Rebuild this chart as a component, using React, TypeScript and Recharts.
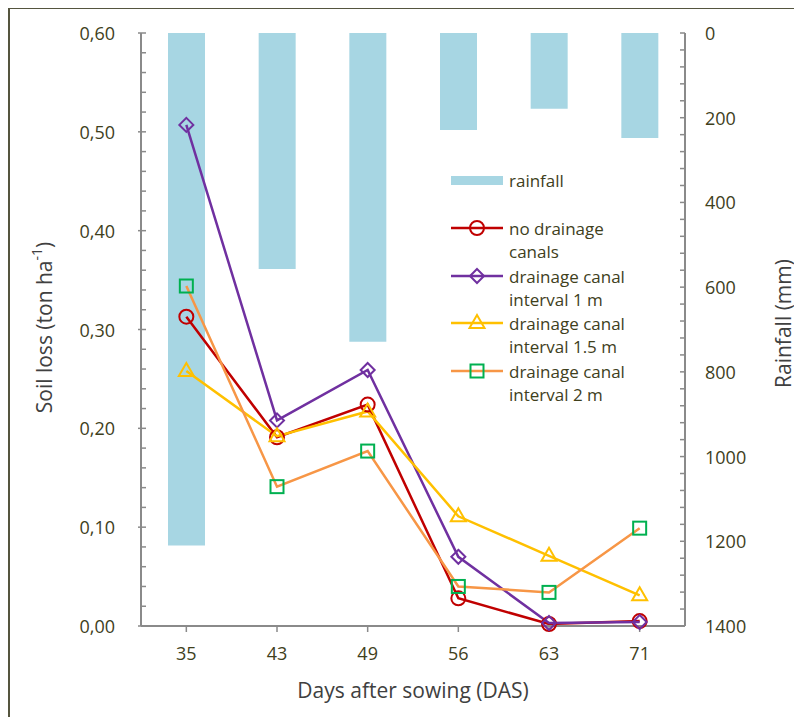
import React from 'react';
import { ComposedChart, Bar, Line, XAxis, YAxis, Legend } from 'recharts';

const days = ['35', '43', '49', '56', '63', '71'];
const rainfall = [1210, 557, 729, 229, 179, 248];
const noCanal = [0.313, 0.191, 0.224, 0.028, 0.002, 0.005];
const canal1m = [0.507, 0.208, 0.259, 0.070, 0.003, 0.004];
const canal15m = [0.258, 0.192, 0.217, 0.111, 0.071, 0.031];
const canal2m = [0.344, 0.141, 0.177, 0.040, 0.034, 0.099];

const soilTicks = [
  0, 0.02, 0.04, 0.06, 0.08, 0.1, 0.12, 0.14, 0.16, 0.18, 0.2, 0.22, 0.24, 0.26, 0.28, 0.3,
  0.32, 0.34, 0.36, 0.38, 0.4, 0.42, 0.44, 0.46, 0.48, 0.5, 0.52, 0.54, 0.56, 0.58, 0.6,
];
const rainTicks = [
  0, 40, 80, 120, 160, 200, 240, 280, 320, 360, 400, 440, 480, 520, 560, 600, 640, 680,
  720, 760, 800, 840, 880, 920, 960, 1000, 1040, 1080, 1120, 1160, 1200, 1240, 1280, 1320,
  1360, 1400,
];

const data = days.map((d, i) => ({
  day: d,
  rainfall: rainfall[i],
  noCanal: noCanal[i],
  canal1m: canal1m[i],
  canal15m: canal15m[i],
  canal2m: canal2m[i],
}));

const FONT = "'Open Sans', sans-serif";
const TEXT = '#40401c';
const TITLE = '#404040';
const AXIS = '#8a8a8a';
const BAR = '#a7d6e3';
const RED = '#c00000';
const PURPLE = '#7030a0';
const YELLOW = '#ffc000';
const ORANGE = '#f79646';
const GREEN = '#00b050';

type Shape = 'circle' | 'diamond' | 'triangle' | 'square';

function Marker({ cx, cy, shape, color }: { cx: number; cy: number; shape: Shape; color: string }) {
  const sw = 2;
  if (shape === 'circle') return <circle cx={cx} cy={cy} r={7} fill="none" stroke={color} strokeWidth={sw} />;
  if (shape === 'diamond')
    return <path d={`M${cx},${cy - 7}L${cx + 7},${cy}L${cx},${cy + 7}L${cx - 7},${cy}Z`} fill="none" stroke={color} strokeWidth={sw} />;
  if (shape === 'triangle')
    return <path d={`M${cx},${cy - 8}L${cx + 7.5},${cy + 5}L${cx - 7.5},${cy + 5}Z`} fill="none" stroke={color} strokeWidth={sw} />;
  return <rect x={cx - 6.5} y={cy - 6.5} width={13} height={13} fill="none" stroke={color} strokeWidth={sw} />;
}

const makeDot = (shape: Shape, color: string) => (p: any) => (
  <Marker key={`${shape}-${p.index}`} cx={p.cx} cy={p.cy} shape={shape} color={color} />
);

const legendRows = [
  { lines: ['no drainage', 'canals'], color: RED, marker: RED, shape: 'circle' as Shape, y: 63 },
  { lines: ['drainage canal', 'interval 1 m'], color: PURPLE, marker: PURPLE, shape: 'diamond' as Shape, y: 111 },
  { lines: ['drainage canal', 'interval 1.5 m'], color: YELLOW, marker: YELLOW, shape: 'triangle' as Shape, y: 158 },
  { lines: ['drainage canal', 'interval 2 m'], color: ORANGE, marker: GREEN, shape: 'square' as Shape, y: 206 },
];

function LegendBox() {
  return (
    <svg width={240} height={250} style={{ fontFamily: FONT, overflow: 'visible' }}>
      <rect x={6} y={11} width={52} height={9} fill={BAR} />
      <text x={64} y={15.5} fontSize={17} fill={TEXT} dominantBaseline="central">rainfall</text>
      {legendRows.map((r) => (
        <g key={r.lines[0] + r.y}>
          <line x1={6} x2={58} y1={r.y} y2={r.y} stroke={r.color} strokeWidth={2.5} />
          <Marker cx={32} cy={r.y} shape={r.shape} color={r.marker} />
          <text x={64} y={r.y} fontSize={17} fill={TEXT} dominantBaseline="central">{r.lines[0]}</text>
          <text x={64} y={r.y + 23.5} fontSize={17} fill={TEXT} dominantBaseline="central">{r.lines[1]}</text>
        </g>
      ))}
    </svg>
  );
}

function SoilTick(props: any) {
  const { x, y, payload } = props;
  const v = payload.value;
  const major = Math.abs(v * 10 - Math.round(v * 10)) < 1e-6;
  if (!major) return null;
  return (
    <g>
      <line x1={x + 23} x2={x + 26} y1={y} y2={y} stroke={AXIS} strokeWidth={1.5} />
      <text x={x} y={y} textAnchor="end" dominantBaseline="central" fontSize={18} fill={TEXT}>
        {v.toFixed(2).replace('.', ',')}
      </text>
    </g>
  );
}

function RainTick(props: any) {
  const { x, y, payload } = props;
  const v = payload.value;
  if (v % 200 !== 0) return null;
  return (
    <text x={x} y={y} textAnchor="start" dominantBaseline="central" fontSize={18} fill={TEXT}>
      {v}
    </text>
  );
}

const SoilTitle = ({ viewBox }: any) => {
  const x = viewBox.x - 4;
  const y = viewBox.y + viewBox.height / 2 - 2;
  return (
    <text x={x} y={y} transform={`rotate(-90 ${x} ${y})`} textAnchor="middle" dominantBaseline="central" fontSize={21} fill={TITLE}>
      Soil loss (ton ha<tspan dy={-8} fontSize={14}>-1</tspan><tspan dy={8}>)</tspan>
    </text>
  );
};

const RainTitle = ({ viewBox }: any) => {
  const x = viewBox.x + 98;
  const y = viewBox.y + viewBox.height / 2 - 6;
  return (
    <text x={x} y={y} transform={`rotate(-90 ${x} ${y})`} textAnchor="middle" dominantBaseline="central" fontSize={21} fill={TITLE}>
      Rainfall (mm)
    </text>
  );
};

const DayTitle = ({ viewBox }: any) => (
  <text x={viewBox.x + viewBox.width / 2} y={viewBox.y + 64} textAnchor="middle" dominantBaseline="central" fontSize={21} fill={TITLE}>
    Days after sowing (DAS)
  </text>
);

export default function App() {
  return (
    <div style={{ position: 'relative', width: 794, height: 709 }}>
      <div style={{ position: 'absolute', left: 0, top: -1, right: -10, bottom: -10, borderLeft: '2px solid #55553f', borderTop: '2px solid #55553f' }} />
      <ComposedChart
        width={794}
        height={709}
        data={data}
        margin={{ top: 25, right: 37, bottom: 41, left: 40 }}
        style={{ fontFamily: FONT }}
      >
        <Bar dataKey="rainfall" yAxisId="rain" fill={BAR} barSize={37} isAnimationActive={false} />
        <XAxis xAxisId="top" dataKey="day" orientation="top" height={0} tick={false} tickLine={false} axisLine={{ stroke: '#4a4a30', strokeWidth: 2 }} />
        <XAxis
          dataKey="day"
          height={50}
          tickSize={6}
          tickMargin={15}
          tick={{ fontSize: 18, fill: TEXT }}
          tickLine={{ stroke: AXIS, strokeWidth: 1.5 }}
          axisLine={{ stroke: AXIS, strokeWidth: 2 }}
          label={<DayTitle />}
        />
        <YAxis
          yAxisId="soil"
          orientation="left"
          width={93}
          domain={[0, 0.6]}
          ticks={soilTicks}
          interval={0}
          tickSize={-5}
          tickMargin={31}
          tick={<SoilTick />}
          tickLine={{ stroke: AXIS, strokeWidth: 1.5 }}
          axisLine={{ stroke: AXIS, strokeWidth: 2 }}
          label={<SoilTitle />}
        />
        <YAxis
          yAxisId="rain"
          orientation="right"
          width={80}
          reversed
          domain={[0, 1400]}
          ticks={rainTicks}
          interval={0}
          tickSize={-5}
          tickMargin={25}
          tick={<RainTick />}
          tickLine={{ stroke: AXIS, strokeWidth: 1.5 }}
          axisLine={{ stroke: AXIS, strokeWidth: 2 }}
          label={<RainTitle />}
        />
        <Line yAxisId="soil" dataKey="noCanal" stroke={RED} strokeWidth={2.5} dot={makeDot('circle', RED)} activeDot={false} isAnimationActive={false} />
        <Line yAxisId="soil" dataKey="canal1m" stroke={PURPLE} strokeWidth={2.5} dot={makeDot('diamond', PURPLE)} activeDot={false} isAnimationActive={false} />
        <Line yAxisId="soil" dataKey="canal15m" stroke={YELLOW} strokeWidth={2.5} dot={makeDot('triangle', YELLOW)} activeDot={false} isAnimationActive={false} />
        <Line yAxisId="soil" dataKey="canal2m" stroke={ORANGE} strokeWidth={2.5} dot={makeDot('square', GREEN)} activeDot={false} isAnimationActive={false} />
        <Legend
          layout="vertical"
          align="center"
          verticalAlign="middle"
          wrapperStyle={{ left: 437, top: 157, width: 240 }}
          content={() => <LegendBox />}
        />
      </ComposedChart>
    </div>
  );
}
